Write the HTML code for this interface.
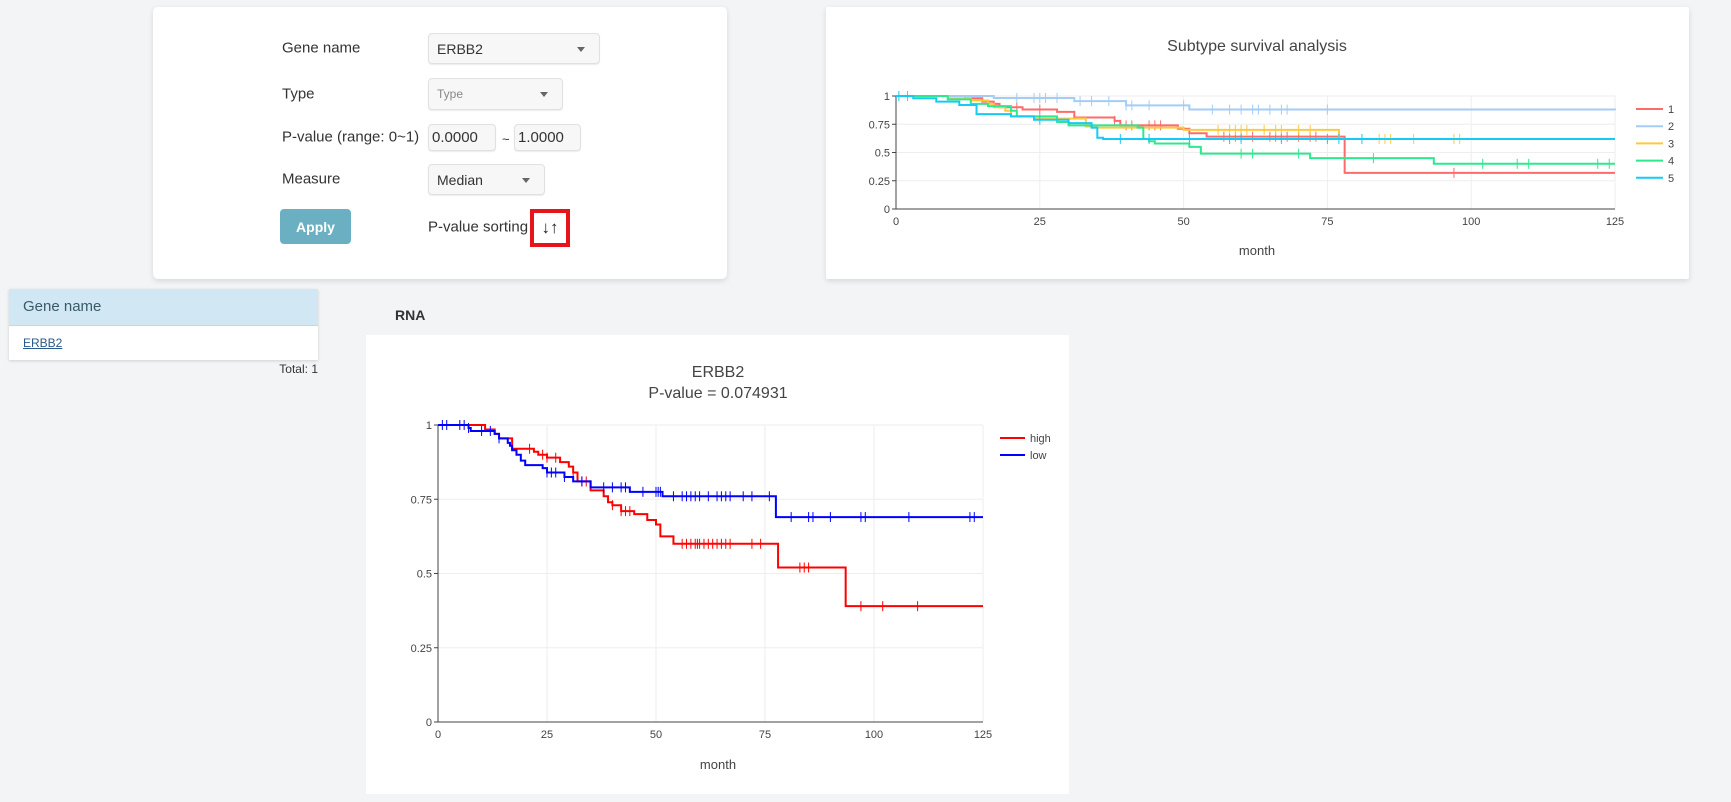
<!DOCTYPE html>
<html><head><meta charset="utf-8"><style>
body{margin:0;width:1731px;height:802px;background:#f3f4f6;font-family:"Liberation Sans",sans-serif;position:relative;overflow:hidden;color:#333}
.card{position:absolute;background:#fff;border-radius:5px;box-shadow:0 2px 6px rgba(0,0,0,.12)}
.lbl{position:absolute;font-size:15px;color:#333;transform:translateY(-50%)}
.sel{position:absolute;background:#f7f7f7;border:1px solid #e1e1e1;border-radius:4px;box-shadow:0 1px 1px rgba(0,0,0,.08);font-size:14px;box-sizing:border-box;padding-left:8px;display:flex;align-items:center}
.caret{position:absolute;right:14px;top:50%;margin-top:-2px;border-left:4px solid transparent;border-right:4px solid transparent;border-top:5px solid #666}
</style></head><body>
<div class="card" style="left:153px;top:7px;width:574px;height:272px"></div>
<div class="lbl" style="left:282px;top:48px">Gene name</div>
<div class="sel" style="left:428px;top:33px;width:172px;height:31px">ERBB2<span class="caret"></span></div>
<div class="lbl" style="left:282px;top:94px">Type</div>
<div class="sel" style="left:428px;top:78px;width:135px;height:32px;color:#888;font-size:12px">Type<span class="caret"></span></div>
<div class="lbl" style="left:282px;top:137px">P-value (range: 0~1)</div>
<div class="sel" style="left:428px;top:124px;width:68px;height:27px;padding-left:3px;font-size:15px">0.0000</div>
<div class="lbl" style="left:502px;top:139px;font-size:13px">~</div>
<div class="sel" style="left:514px;top:124px;width:67px;height:27px;padding-left:3px;font-size:15px">1.0000</div>
<div class="lbl" style="left:282px;top:179px">Measure</div>
<div class="sel" style="left:428px;top:164px;width:117px;height:31px">Median<span class="caret"></span></div>
<div style="position:absolute;left:280px;top:209px;width:71px;height:35px;background:#6ab0c2;border-radius:4px;color:#fff;font-size:14px;font-weight:bold;display:flex;align-items:center;justify-content:center">Apply</div>
<div class="lbl" style="left:428px;top:227px">P-value sorting</div>
<div style="position:absolute;left:530px;top:209px;width:32px;height:30px;border:4px solid #e8141c;background:#fff;font-size:17px;font-weight:bold;display:flex;align-items:center;justify-content:center;color:#222">↓↑</div>

<div style="position:absolute;left:9px;top:289px;width:309px;height:71px;background:#fff;box-shadow:0 1px 3px rgba(0,0,0,.15)">
<div style="height:36px;background:#d1e8f4;border-bottom:1px solid #bcdbe9;font-size:15px;color:#3a5a6a;line-height:36px;padding-left:14px">Gene name</div>
<div style="padding-left:14px;line-height:34px;font-size:12px;color:#2a5a8a;text-decoration:underline">ERBB2</div>
</div>
<div style="position:absolute;left:250px;width:68px;text-align:right;top:362px;font-size:12px;color:#333">Total: 1</div>
<div style="position:absolute;left:395px;top:307px;font-size:14px;font-weight:bold;color:#333">RNA</div>
<div style="position:absolute;left:366px;top:335px;width:703px;height:459px;background:#fff"></div>
<div class="card" style="left:826px;top:7px;width:863px;height:272px;border-radius:2px"></div>

<svg id="svg" width="1731" height="802" style="position:absolute;left:0;top:0" font-family="Liberation Sans, sans-serif"></svg>
<script>
// ---- RNA chart data ----
const rnaHighSteps=[[0,1],[10.8,0.985],[13,0.97],[14,0.955],[17,0.92],[22,0.91],[23,0.9],[25,0.89],[28,0.875],[30,0.86],[31,0.84],[32,0.81],[35,0.78],[38,0.76],[39,0.74],[40,0.73],[42,0.71],[45,0.70],[48,0.68],[50,0.665],[51,0.625],[54,0.60],[78,0.52],[93.5,0.39]];
const rnaHighCensor=[21,24,25,27,31,33,34,40,42,43,44,56,57,58,59,59.5,60,61,62,63,64,65,66,67,72,74,83,84,85,97,102,110];
const rnaLowSteps=[[0,1],[7,0.99],[7.5,0.98],[13,0.97],[14,0.955],[16,0.94],[16.5,0.93],[17,0.915],[18,0.9],[19,0.88],[20,0.865],[24,0.855],[25,0.84],[29,0.825],[31,0.81],[35,0.79],[44,0.775],[51.5,0.76],[77.5,0.69]];
const rnaLowCensor=[1,2,5,6,7,10,12,14,25,26,27,29,33,38,40,42,43,47,50,50.5,51,54,56,57,58,59,60,62,64,65,66,67,70,72,76,81,85,86,90,97,98,108,122,123];
const xTicks=[0,25,50,75,100,125];
const yTicks=[0,0.25,0.5,0.75,1];
// ---- Subtype chart data ----
const subNames=["1","2","3","4","5"];
const sub1=[[0,1],[12,0.98],[15,0.95],[17,0.93],[18,0.9],[22,0.88],[28,0.86],[31,0.81],[38,0.78],[39,0.74],[49,0.71],[51,0.67],[54,0.64],[78,0.32]];
const sub2=[[0,1],[17,0.982],[31,0.955],[40,0.917],[51,0.88],[125,0.875]];
const sub3=[[0,1],[9,0.98],[13,0.96],[16,0.93],[17,0.9],[19,0.87],[20,0.82],[24,0.80],[33,0.73],[34,0.72],[50,0.70],[77,0.62]];
const sub4=[[0,1],[9,0.97],[13,0.93],[16,0.91],[20,0.87],[21,0.82],[28,0.77],[30,0.74],[42,0.72],[43,0.62],[44,0.6],[45,0.58],[51,0.55],[53,0.49],[72,0.45],[93.5,0.40]];
const sub5=[[0,1],[3,0.98],[7,0.95],[11,0.92],[14,0.84],[20,0.82],[24,0.79],[30,0.76],[34,0.72],[35,0.63],[36,0.62]];
const sub1C=[21,25,38,40,41,44,45,46,57,59,60,62,65,66,67,68,70,72,73,97];
const sub2C=[21,24,25,26,28,32,34,37,40,41,44,50,55,58,60,62,63,65,67,68,75];
const sub3C=[56,58,59,60,61,64,66,67,70,72,84,85,86,90,97,98];
const sub4C=[2,60,62,70,83,102,108,110,122,124];
const sub5C=[0.5,25,39,44,51,58,60,67,75,77,81];

const NS="http://www.w3.org/2000/svg";
const svg=document.getElementById('svg');
function mk(tag,attrs,parent){const e=document.createElementNS(NS,tag);for(const k in attrs)e.setAttribute(k,attrs[k]);(parent||svg).appendChild(e);return e;}
function valAt(steps,t){let v=steps[0][1];for(const s of steps){if(s[0]<=t)v=s[1];}return v;}

function chart(cfg){
  const X=v=>cfg.x0+(cfg.x1-cfg.x0)*v/125;
  const Y=v=>cfg.y0-(cfg.y0-cfg.y1)*v;
  const g=mk('g',{});
  
  
  xTicks.forEach(t=>{
    if(t>0){const l=mk('line',{x1:X(t),x2:X(t),y1:cfg.y0,y2:cfg.y1,stroke:'#eee'},g);
    }
    const tx=mk('text',{x:X(t),y:cfg.y0+cfg.fs+5,'font-size':cfg.fs,'text-anchor':'middle',fill:'#444'},g);tx.textContent=t;
    
  });
  yTicks.forEach(t=>{
    if(t>0){const l=mk('line',{x1:cfg.x0,x2:cfg.x1,y1:Y(t),y2:Y(t),stroke:'#eee'},g);
    }
    mk('line',{x1:cfg.x0-4,x2:cfg.x0,y1:Y(t),y2:Y(t),stroke:'#444'},g);
    const tx=mk('text',{x:cfg.x0-6,y:Y(t)+4,'font-size':cfg.fs,'text-anchor':'end',fill:'#444'},g);tx.textContent=t;
    
  });
  const ax=mk('path',{d:`M${cfg.x0},${cfg.y1}V${cfg.y0}H${cfg.x1}`,stroke:'#444',fill:'none'},g);
  
  cfg.series.forEach((s,i)=>{
    let d=`M${X(0)},${Y(s.steps[0][1])}`;
    for(let k=1;k<s.steps.length;k++){d+=`H${X(s.steps[k][0])}V${Y(s.steps[k][1])}`;}
    d+=`H${X(125)}`;
    const p=mk('path',{d,stroke:s.color,'stroke-width':2,fill:'none'},g);
    
    s.censor.forEach(c=>{const yy=Y(valAt(s.steps,c));
      const m=mk('line',{x1:X(c),x2:X(c),y1:yy-5,y2:yy+5,stroke:s.color,'stroke-width':1},g);
      });
    const ly=cfg.legY+i*cfg.legDy;
    const ll=mk('line',{x1:cfg.legX,x2:cfg.legX+cfg.legW,y1:ly,y2:ly,stroke:s.color,'stroke-width':2},g);
    
    const lt=mk('text',{x:cfg.legX+cfg.legW+5,y:ly+4,'font-size':cfg.fs,fill:'#444'},g);lt.textContent=s.label;
    
  });
  cfg.titles.forEach((t,i)=>{const tt=mk('text',{x:cfg.tx,y:cfg.ty+i*21,'font-size':16,'text-anchor':'middle',fill:'#444'},g);tt.textContent=t;
    });
  const xl=mk('text',{x:cfg.tx,y:cfg.xly,'font-size':13,'text-anchor':'middle',fill:'#444'},g);xl.textContent='month';
  
}
chart({name:'rna-survival-chart',x0:438,x1:983,y0:722,y1:425,fs:11,tx:718,ty:377,titles:['ERBB2','P-value = 0.074931'],xly:769,
  legX:1000,legY:438,legDy:17,legW:25,
  series:[{label:'high',color:'#ff0000',steps:rnaHighSteps,censor:rnaHighCensor},{label:'low',color:'#0000ff',steps:rnaLowSteps,censor:rnaLowCensor}]});
chart({name:'subtype-survival-chart',x0:896,x1:1615,y0:209,y1:96,fs:11,tx:1257,ty:51,titles:['Subtype survival analysis'],xly:255,
  legX:1636,legY:109,legDy:17.2,legW:27,
  series:[{label:subNames[0],color:'#ff6b6b',steps:sub1,censor:sub1C},{label:subNames[1],color:'#a3cdf5',steps:sub2,censor:sub2C},
  {label:subNames[2],color:'#ffc93c',steps:sub3,censor:sub3C},{label:subNames[3],color:'#2ee88f',steps:sub4,censor:sub4C},
  {label:subNames[4],color:'#17c9f5',steps:sub5,censor:sub5C}]});
</script>
</body></html>
